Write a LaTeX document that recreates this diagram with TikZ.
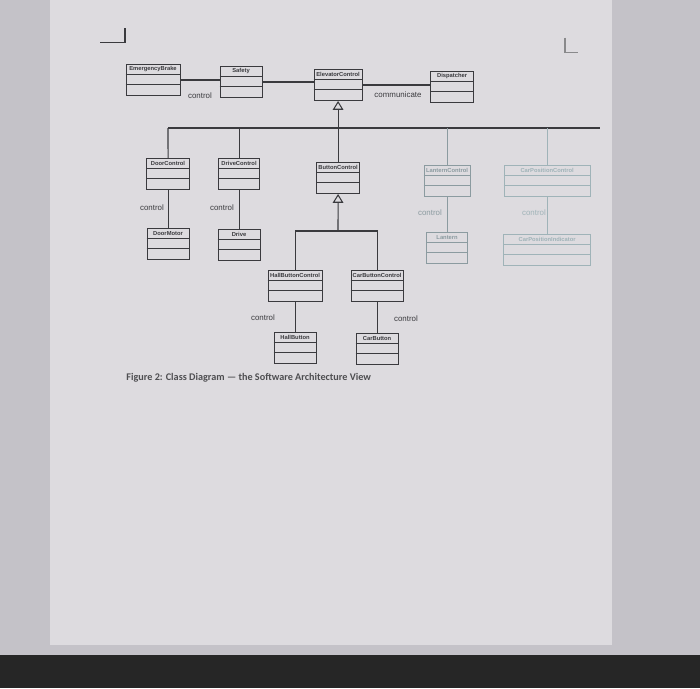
\documentclass[tikz,border=0pt]{standalone}
\usepackage{fontspec}
\setmainfont{Liberation Sans}
\newfontfamily\capfont{Carlito}
\usetikzlibrary{arrows.meta}
\definecolor{bgout}{HTML}{C4C2C8}
\definecolor{page}{HTML}{DDDBDF}
\definecolor{ink}{HTML}{3A3A3E}
\definecolor{faded}{HTML}{9FB3B8}
\tikzset{
  cls/.style={draw=#1,line width=0.5pt,minimum height=0.62cm,inner sep=0pt,anchor=center},
  conn/.style={draw=ink,line width=0.6pt},
  lbl/.style={font=\fontsize{4.5}{5}\selectfont,text=ink},
  inh/.style={-{Triangle[open,length=5pt,width=6pt]},draw=ink,line width=0.6pt}
}
\newcommand\umlc[6]{%
  \node[cls=#6,minimum width=#4*0.02cm] (#1) at (#2*0.02,-#3*0.02) {};
  \draw[#6,line width=0.5pt] ([yshift=-0.2cm]#1.north west) -- ([yshift=-0.2cm]#1.north east)
     ([yshift=-0.4cm]#1.north west) -- ([yshift=-0.4cm]#1.north east);
  \node[font=\fontsize{3.3}{4}\selectfont\bfseries,text=#6,anchor=center] (#1-t) at ([yshift=-0.1cm]#1.north) {#5};
}
\begin{document}
\begin{tikzpicture}
\useasboundingbox (0,0) rectangle (14,-13.76);
\fill[bgout] (0,0) rectangle (14,-13.76);
\fill[page] (1.0,0) rectangle (12.24,-12.9);
\fill[black!85] (0,-13.1) rectangle (14,-13.76);
\draw[ink,line width=0.6pt] (2.0,-0.85) -- (2.5,-0.85) -- (2.5,-0.55);
\draw[ink!60,line width=0.6pt] (11.3,-0.75) -- (11.3,-1.05) -- (11.55,-1.05);

\umlc{eb}{153}{80}{54}{EmergencyBrake}{ink}
\umlc{sf}{241}{82}{42}{Safety}{ink}
\umlc{ec}{338}{85}{48}{ElevatorControl}{ink}
\umlc{dp}{452}{87}{43}{Dispatcher}{ink}
\umlc{dc}{168}{174}{43}{DoorControl}{ink}
\umlc{dv}{239}{174}{41}{DriveControl}{ink}
\umlc{bc}{338}{178}{43}{ButtonControl}{ink}
\umlc{lc}{447}{181}{46}{LanternControl}{faded!80!ink}
\umlc{cp}{547}{181}{86}{CarPositionControl}{faded}
\umlc{dm}{168}{244}{42}{DoorMotor}{ink}
\umlc{dr}{239}{245}{42}{Drive}{ink}
\umlc{ln}{447}{248}{41}{Lantern}{faded!80!ink}
\umlc{ci}{547}{250}{87}{CarPositionIndicator}{faded}
\umlc{hbc}{295}{286}{54}{HallButtonControl}{ink}
\umlc{cbc}{377}{286}{52}{CarButtonControl}{ink}
\umlc{hb}{295}{348}{42}{HallButton}{ink}
\umlc{cb}{377}{349}{42}{CarButton}{ink}

\draw[conn] (eb.east) -- (sf.west |- eb.east);
\draw[conn] (sf.east) -- (ec.west |- sf.east);
\draw[conn] (ec.east) -- (dp.west |- ec.east);
\node[lbl] (l1) at (4.0,-1.92) {control};
\node[lbl] (l2) at (7.96,-1.9) {communicate};

\coordinate (bl) at (3.36,-2.56);
\coordinate (br) at (12.0,-2.56);
\draw[conn] (bl) -- (br);
\draw[conn] (bl) -- (dc.north);
\draw[conn] (dv.north |- bl) -- (dv.north);
\draw[conn,draw=faded!80!ink] (lc.north |- bl) -- (lc.north);
\draw[conn,draw=faded] (cp.north |- bl) -- (cp.north);
\draw[inh] (bc.north) -- (ec.south);

\draw[conn] (dc.south) -- (dm.north);
\draw[conn] (dv.south) -- (dr.north);
\draw[conn,draw=faded!80!ink] (lc.south) -- (ln.north);
\draw[conn,draw=faded] (cp.south) -- (ci.north);
\node[lbl] (l3) at (3.04,-4.16) {control};
\node[lbl] (l4) at (4.44,-4.16) {control};
\node[lbl,text=faded!80!ink] (l5) at (8.6,-4.26) {control};
\node[lbl,text=faded] (l6) at (10.68,-4.26) {control};

\coordinate (sj) at (6.76,-4.62);
\draw[conn] (hbc.north) |- (sj) -| (cbc.north);
\draw[inh] (sj) -- (bc.south);
\draw[conn] (hbc.south) -- (hb.north);
\draw[conn] (cbc.south) -- (cb.north);
\node[lbl] (l7) at (5.26,-6.36) {control};
\node[lbl] (l8) at (8.12,-6.38) {control};

\node[font=\capfont\bfseries\fontsize{5.8}{7}\selectfont,text=ink!90,anchor=west,inner sep=0pt] (cap) at (2.52,-7.56) {Figure 2: Class Diagram — the Software Architecture View};
\end{tikzpicture}
\end{document}
